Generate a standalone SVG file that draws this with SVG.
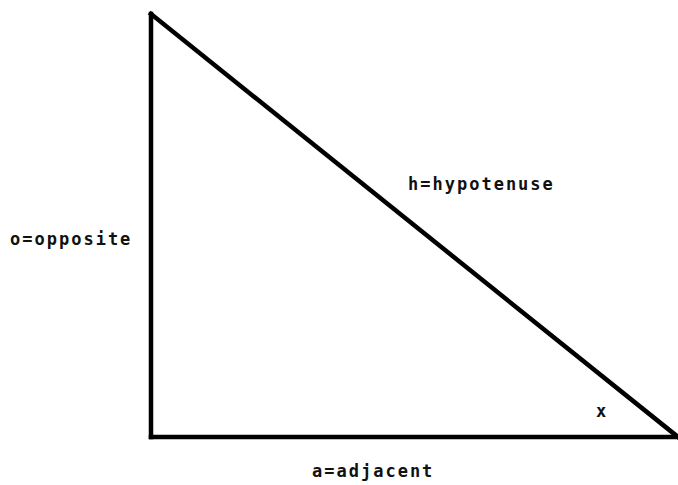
<svg xmlns="http://www.w3.org/2000/svg" width="678" height="485" viewBox="0 0 678 485">
<style>
.edge{stroke:#000;stroke-width:4.5;fill:none;stroke-linecap:square}
.lbl{font-family:"DejaVu Sans Mono","Liberation Mono",monospace;font-weight:bold;font-size:17px;letter-spacing:2px;fill:#111}
</style>
<rect width="678" height="485" fill="#fff"/>
<g id="connectors">
<line class="edge" x1="151" y1="14" x2="151" y2="437"/>
<line class="edge" x1="151" y1="437" x2="678" y2="437"/>
<line class="edge" x1="151" y1="14" x2="678" y2="437"/>
</g>
<g id="label-opposite"><text class="lbl" x="10" y="245">o=opposite</text></g>
<g id="label-hypotenuse"><text class="lbl" x="408" y="190">h=hypotenuse</text></g>
<g id="label-adjacent"><text class="lbl" x="312" y="477">a=adjacent</text></g>
<g id="label-x"><text class="lbl" x="596" y="417">x</text></g>
</svg>
